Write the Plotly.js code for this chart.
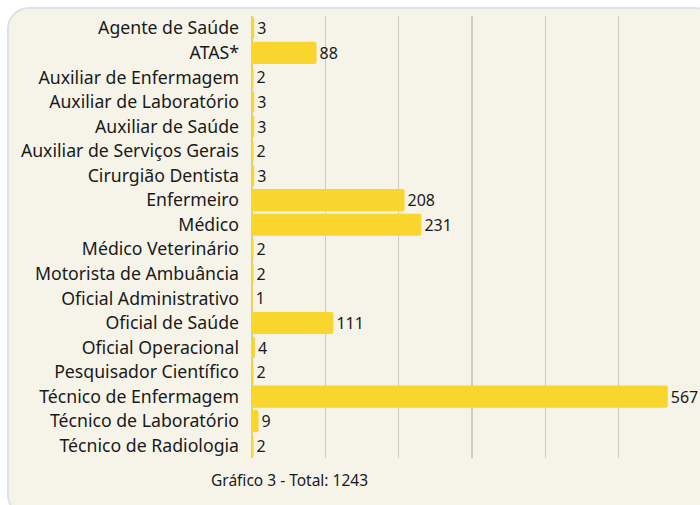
<!DOCTYPE html>
<html>
<head>
<meta charset="utf-8">
<script src="https://cdn.plot.ly/plotly-3.0.1.min.js"></script>
<style>
  html, body { margin: 0; padding: 0; background: #ffffff; width: 700px; height: 505px; overflow: hidden; }
  #card { position: absolute; left: 7px; top: 7px; width: 710px; height: 510px; box-sizing: border-box;
          border: 2px solid #dfe1e3; border-radius: 22px; background: #f6f4e9; }
  #chart { position: absolute; left: 0; top: 0; width: 700px; height: 505px; }
</style>
</head>
<body>
<div id="card"></div>
<div id="chart"></div>
<script>
const categories = [
  "Agente de Saúde", "ATAS*", "Auxiliar de Enfermagem", "Auxiliar de Laboratório",
  "Auxiliar de Saúde", "Auxiliar de Serviços Gerais", "Cirurgião Dentista", "Enfermeiro",
  "Médico", "Médico Veterinário", "Motorista de Ambuância", "Oficial Administrativo",
  "Oficial de Saúde", "Oficial Operacional", "Pesquisador Científico", "Técnico de Enfermagem",
  "Técnico de Laboratório", "Técnico de Radiologia"
];
const values = [3, 88, 2, 3, 3, 2, 3, 208, 231, 2, 2, 1, 111, 4, 2, 567, 9, 2];
const caption = "Gráfico 3 - Total: 1243";

const trace = {
  type: "bar",
  orientation: "h",
  y: categories,
  x: values,
  text: values.map(String),
  textposition: "outside",
  constraintext: "none",
  cliponaxis: false,
  textfont: { family: "Noto Sans", size: 16, color: "#1a1a1a" },
  marker: { color: "#f9d62e", cornerradius: 2 },
  hoverinfo: "none"
};

const layout = {
  width: 700, height: 505,
  paper_bgcolor: "rgba(0,0,0,0)",
  plot_bgcolor: "rgba(0,0,0,0)",
  margin: { l: 252, r: 8, t: 16, b: 47 },
  bargap: 0.1,
  showlegend: false,
  font: { family: "Noto Sans", color: "#1a1a1a" },
  xaxis: {
    range: [0, 600], dtick: 100, showticklabels: false,
    showgrid: true, gridcolor: "#cfcbbd", gridwidth: 1.2,
    zeroline: true, zerolinecolor: "#cfcbbd", zerolinewidth: 1.2,
    fixedrange: true
  },
  yaxis: {
    autorange: "reversed", type: "category",
    tickfont: { family: "Noto Sans", size: 17.7, color: "#1a1a1a" },
    ticks: "", ticklen: 0, showgrid: false, zeroline: false, automargin: false,
    ticklabelstandoff: 12
  },
  annotations: [{
    text: caption, xref: "paper", yref: "paper", x: 0.086, y: -0.05,
    xanchor: "center", yanchor: "middle", showarrow: false,
    font: { family: "Noto Sans", size: 15.5, color: "#1a1a1a" }
  }]
};

Plotly.newPlot("chart", [trace], layout, { displayModeBar: false, staticPlot: true });
</script>
</body>
</html>
